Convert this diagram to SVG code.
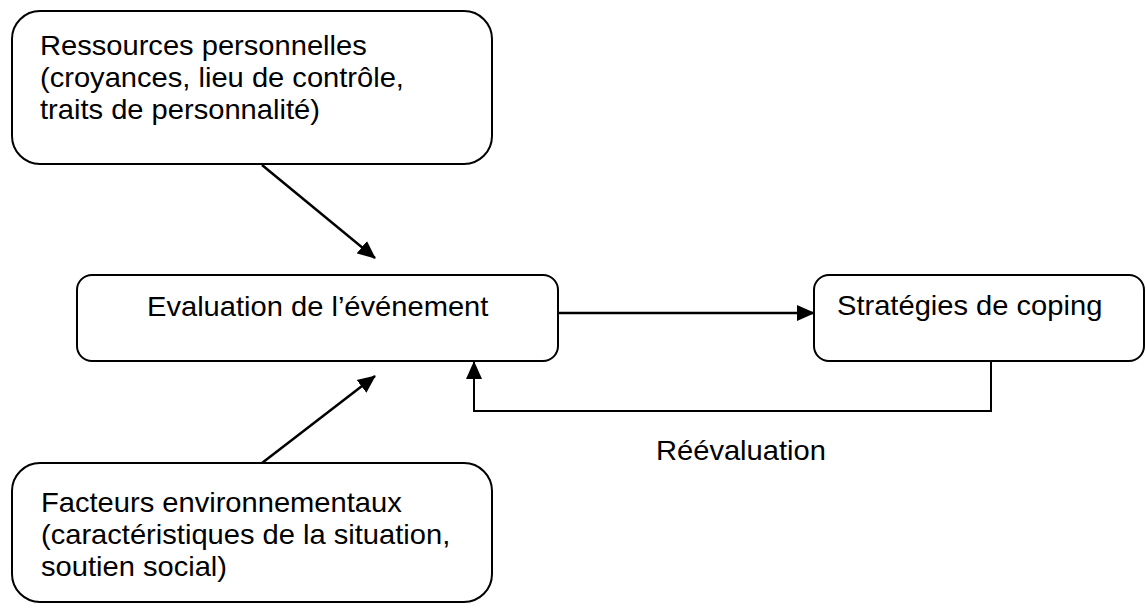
<svg xmlns="http://www.w3.org/2000/svg" width="1146" height="613" viewBox="0 0 1146 613">
<style>
.box{fill:#fff;stroke:#000;stroke-width:2}
.lbl{font-family:"Liberation Sans",Arial,sans-serif;font-size:28px;fill:#000}
.con{fill:none;stroke:#000;stroke-width:2.5}
</style>
<defs>
<marker id="ah" markerUnits="userSpaceOnUse" markerWidth="18" markerHeight="18" viewBox="0 0 18 18" refX="17" refY="9" orient="auto">
<path d="M0,1 L18,9 L0,17 Z" fill="#000"/>
</marker>
</defs>
<rect width="1146" height="613" fill="#fff"/>
<g id="ressources">
<rect class="box" x="12" y="11" width="480" height="153" rx="28" ry="28"/>
<text class="lbl" transform="translate(40,55) scale(1.04,1)">Ressources personnelles</text>
<text class="lbl" transform="translate(40,87) scale(1.04,1)">(croyances, lieu de contrôle,</text>
<text class="lbl" transform="translate(40,119) scale(1.04,1)">traits de personnalité)</text>
</g>
<g id="evaluation">
<rect class="box" x="77" y="275" width="481" height="86" rx="15" ry="15"/>
<text class="lbl" transform="translate(147,316) scale(1.04,1)">Evaluation de l’événement</text>
</g>
<g id="strategies">
<rect class="box" x="814" y="275" width="330" height="86" rx="15" ry="15"/>
<text class="lbl" transform="translate(837,315) scale(1.04,1)">Stratégies de coping</text>
</g>
<g id="facteurs">
<rect class="box" x="12" y="463" width="480" height="139" rx="28" ry="28"/>
<text class="lbl" transform="translate(41,512) scale(1.04,1)">Facteurs environnementaux</text>
<text class="lbl" transform="translate(41,544) scale(1.04,1)">(caractéristiques de la situation,</text>
<text class="lbl" transform="translate(41,576) scale(1.04,1)">soutien social)</text>
</g>
<g id="connectors">
<line class="con" x1="262" y1="165" x2="375" y2="258" marker-end="url(#ah)"/>
<line class="con" x1="262" y1="463" x2="375" y2="376" marker-end="url(#ah)"/>
<line class="con" x1="558" y1="313" x2="814" y2="313" marker-end="url(#ah)"/>
<polyline class="con" style="stroke-width:2" points="991,361 991,411 474,411 474,362" marker-end="url(#ah)"/>
</g>
<g id="label-reevaluation">
<text class="lbl" transform="translate(656,460) scale(1.04,1)">Réévaluation</text>
</g>
</svg>
